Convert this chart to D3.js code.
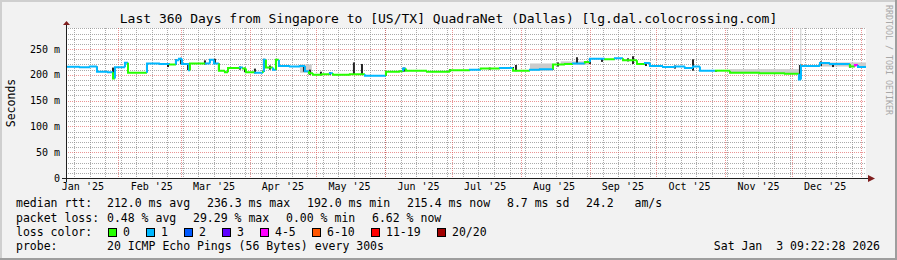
<!DOCTYPE html>
<html>
<head>
<meta charset="utf-8">
<script src="https://cdn.jsdelivr.net/npm/d3@7"></script>
<style>
  body { margin: 0; background: #f2f2f2; }
  svg text { font-family: 'DejaVu Sans Mono', monospace; white-space: pre; fill: #000; }
</style>
</head>
<body>
<script>
const title =
  'Last 360 Days from Singapore to [US/TX] QuadraNet (Dallas) [lg.dal.colocrossing.com]';
const rangeStart = '2025-01-08 09:22:28';
const rangeEnd = '2026-01-03 09:22:28';
const stamp = 'Sat Jan  3 09:22:28 2026';

const yTicks = [0, 50, 100, 150, 200, 250];
const yTickLabels = ['0', '50 m', '100 m', '150 m', '200 m', '250 m'];

// median rtt (ms) as steps, with the loss bucket of each step
const medianDates = [
  '2025-01-08 09', '2025-01-14 16', '2025-01-19 04', '2025-01-22 08', '2025-01-27 07',
  '2025-01-29 13', '2025-01-30 10', '2025-02-03 22', '2025-02-05 07', '2025-02-13 20',
  '2025-02-19 16', '2025-02-24 04', '2025-02-26 21', '2025-02-28 05', '2025-03-01 14',
  '2025-03-04 17', '2025-03-05 04', '2025-03-11 22', '2025-03-14 04', '2025-03-15 23',
  '2025-03-18 05', '2025-03-20 22', '2025-03-22 07', '2025-03-27 16', '2025-03-29 01',
  '2025-03-30 09', '2025-04-03 10', '2025-04-07 01', '2025-04-07 11', '2025-04-08 09',
  '2025-04-11 13', '2025-04-12 21', '2025-04-14 05', '2025-04-19 04', '2025-04-23 16',
  '2025-04-25 22', '2025-04-27 17', '2025-04-29 13', '2025-05-03 14', '2025-05-07 04',
  '2025-05-08 13', '2025-05-16 04', '2025-05-22 22', '2025-06-01 09', '2025-06-07 16',
  '2025-06-09 01', '2025-06-10 09', '2025-06-19 20', '2025-06-30 04', '2025-07-09 04',
  '2025-07-14 01', '2025-07-22 16', '2025-07-28 13', '2025-08-05 04', '2025-08-09 16',
  '2025-08-15 13', '2025-08-20 22', '2025-08-24 13', '2025-08-29 22', '2025-09-01 04',
  '2025-09-07 22', '2025-09-12 10', '2025-09-16 01', '2025-09-22 08', '2025-09-25 22',
  '2025-09-28 04', '2025-10-04 01', '2025-10-09 10', '2025-10-13 22', '2025-10-17 13',
  '2025-10-20 16', '2025-10-27 10', '2025-11-03 04', '2025-11-16 16', '2025-11-27 22',
  '2025-12-04 05', '2025-12-05 03', '2025-12-05 09', '2025-12-05 18', '2025-12-07 09',
  '2025-12-13 16', '2025-12-18 04', '2025-12-27 04', '2025-12-29 10', '2025-12-30 19',
  '2026-01-03 09',
];
const medianValues = [
  215.5, 214.5, 216, 206, 205, 193, 214.5, 223.5, 204, 222,
  221, 220, 228, 231, 221, 209, 222, 222, 229, 222,
  208, 205, 213, 214, 212, 205, 204, 206, 229, 214,
  210, 229, 217, 216, 217, 207, 203, 200, 201, 203,
  200, 201, 198, 206, 207, 212, 208, 206, 209, 210,
  212, 213, 208, 210, 211, 220, 221, 222, 225, 231,
  230, 232, 228, 221, 223, 217, 215, 216, 213, 216,
  208, 208, 204, 203, 202, 191, 219, 219, 217, 217,
  223, 221, 216, 219, 215, 215,
];
const medianLoss = [
  1, 1, 1, 1, 1, 0, 1, 1, 0, 1,
  1, 0, 1, 1, 1, 1, 0, 1, 1, 1,
  0, 0, 0, 1, 0, 0, 1, 0, 1, 0,
  1, 0, 1, 1, 1, 1, 0, 0, 0, 1,
  0, 0, 1, 0, 0, 1, 0, 0, 0, 1,
  0, 1, 0, 1, 1, 0, 0, 1, 0, 1,
  0, 1, 0, 0, 1, 1, 1, 1, 1, 1,
  1, 0, 0, 0, 0, 1, 1, 5, 1, 1,
  1, 1, 0, 4, 1, 1,
];

// dark smoke: spread of the pings where it is wide
const spikeDates = [
  '2025-01-22 08', '2025-01-29 13', '2025-02-05 07', '2025-02-13 20', '2025-02-23 07',
  '2025-02-26 21', '2025-03-01 03', '2025-03-04 07', '2025-03-11 22', '2025-03-16 10',
  '2025-03-18 05', '2025-03-27 16', '2025-03-29 22', '2025-04-03 10', '2025-04-07 11',
  '2025-04-10 04', '2025-04-12 21', '2025-04-25 11', '2025-04-28 04', '2025-05-03 03',
  '2025-05-07 04', '2025-05-17 23', '2025-05-21 14', '2025-06-01 09', '2025-06-09 11',
  '2025-06-30 04', '2025-07-18 02', '2025-07-28 13', '2025-07-29 21', '2025-08-15 13',
  '2025-08-17 19', '2025-08-26 08', '2025-09-01 04', '2025-09-06 14', '2025-09-18 07',
  '2025-09-20 13', '2025-09-26 09', '2025-10-09 10', '2025-10-17 13', '2025-10-27 21',
  '2025-12-04 16', '2025-12-14 03', '2025-12-19 13', '2025-12-27 04',
];
const spikeLow = [
  206, 193, 204, 205, 215, 220, 221, 209, 220, 222,
  208, 210, 205, 203, 206, 210, 210, 206, 200, 199,
  200, 201, 201, 198, 206, 206, 210, 208, 207, 210,
  216, 222, 221, 225, 226, 221, 217, 212, 208, 206,
  191, 217, 215, 214,
];
const spikeHigh = [
  216, 214, 223, 222, 222, 230, 233, 222, 228, 231,
  222, 216, 214, 212, 231, 218, 230, 218, 210, 206,
  205, 224, 221, 207, 214, 211, 214, 215, 219, 221,
  224, 234, 232, 232, 232, 236, 222, 218, 230, 209,
  219, 226, 222, 220,
];

// pale smoke
const hazeStart = ['2025-04-23 16', '2025-08-05 04', '2025-08-19 00', '2025-11-03 04', '2025-12-04 20', '2025-12-13 16'];
const hazeEnd = ['2025-04-29 00', '2025-08-15 02', '2025-09-01 00', '2025-12-04 05', '2025-12-05 06', '2026-01-03 09'];
const hazeLow = [204, 208, 219, 203, 219, 216];
const hazeHigh = [220, 222, 226, 211, 290, 224];

const lossLabels = ['0', '1', '2', '3', '4-5', '6-10', '11-19', '20/20'];
const lossColors = ['#26ff00', '#00b8ff', '#0059ff', '#5e00ff', '#ff00ff', '#ff5500', '#ff0000', '#a10000'];

const rttStats = ['212.0 ms avg', '236.3 ms max', '192.0 ms min', '215.4 ms now', '8.7 ms sd', '24.2   am/s'];
const lossStats = ['0.48 % avg', '29.29 % max', '0.00 % min', '6.62 % now'];
const probeText = '20 ICMP Echo Pings (56 Bytes) every 300s';

const W = 897;
const H = 260;
const plot = { left: 66, right: 866, top: 28, bottom: 178 };

const parseHour = d3.timeParse('%Y-%m-%d %H');
const parseFull = d3.timeParse('%Y-%m-%d %H:%M:%S');
const t0 = parseFull(rangeStart);
const t1 = parseFull(rangeEnd);

const svg = d3
  .select('body')
  .append('svg')
  .attr('width', W)
  .attr('height', H);

// frame
svg.append('rect').attr('width', W).attr('height', H).attr('fill', '#f2f2f2');
svg.append('rect').attr('x', 0).attr('y', 0).attr('width', W).attr('height', 2).attr('fill', '#cfcfcf');
svg.append('rect').attr('x', 0).attr('y', 0).attr('width', 2).attr('height', H).attr('fill', '#cfcfcf');
svg.append('rect').attr('x', 0).attr('y', H - 2).attr('width', W).attr('height', 2).attr('fill', '#9e9e9e');
svg.append('rect').attr('x', W - 2).attr('y', 0).attr('width', 2).attr('height', H).attr('fill', '#9e9e9e');

const x = d3.scaleTime().domain([t0, t1]).range([plot.left, plot.right]);
const y = d3.scaleLinear().domain([0, 290.7]).range([plot.bottom, plot.top]);

svg
  .append('rect')
  .attr('x', plot.left)
  .attr('y', plot.top)
  .attr('width', plot.right - plot.left)
  .attr('height', plot.bottom - plot.top)
  .attr('fill', '#ffffff');

// grid
const grid = svg.append('g').attr('shape-rendering', 'crispEdges');
const minorGrid = 'rgba(143,143,143,0.75)';
const majorGrid = 'rgba(222,79,79,0.6)';

grid
  .selectAll('line.hminor')
  .data(d3.range(10, 291, 10).filter((v) => v % 50 !== 0))
  .enter()
  .append('line')
  .attr('x1', plot.left)
  .attr('x2', plot.right)
  .attr('y1', (d) => Math.round(y(d)) + 0.5)
  .attr('y2', (d) => Math.round(y(d)) + 0.5)
  .attr('stroke', minorGrid)
  .attr('stroke-dasharray', '1,1');

grid
  .selectAll('line.vminor')
  .data(d3.timeSunday.range(t0, t1))
  .enter()
  .append('line')
  .attr('x1', (d) => Math.round(x(d)) + 0.5)
  .attr('x2', (d) => Math.round(x(d)) + 0.5)
  .attr('y1', plot.top)
  .attr('y2', plot.bottom)
  .attr('stroke', minorGrid)
  .attr('stroke-dasharray', '1,1');

grid
  .selectAll('line.hmajor')
  .data(yTicks.slice(1))
  .enter()
  .append('line')
  .attr('x1', plot.left)
  .attr('x2', plot.right)
  .attr('y1', (d) => Math.round(y(d)) + 0.5)
  .attr('y2', (d) => Math.round(y(d)) + 0.5)
  .attr('stroke', majorGrid)
  .attr('stroke-dasharray', '1,1');

const months = d3.timeMonth.range(t0, t1);
grid
  .selectAll('line.vmajor')
  .data(months)
  .enter()
  .append('line')
  .attr('x1', (d) => Math.round(x(d)) + 0.5)
  .attr('x2', (d) => Math.round(x(d)) + 0.5)
  .attr('y1', plot.top)
  .attr('y2', plot.bottom)
  .attr('stroke', majorGrid)
  .attr('stroke-dasharray', '1,1');

// pale smoke
const haze = hazeStart.map((s, i) => ({
  a: parseHour(s),
  b: parseHour(hazeEnd[i]),
  lo: hazeLow[i],
  hi: hazeHigh[i],
}));
svg
  .append('g')
  .selectAll('rect')
  .data(haze)
  .enter()
  .append('rect')
  .attr('x', (d) => x(d.a))
  .attr('width', (d) => Math.max(1, x(d.b) - x(d.a)))
  .attr('y', (d) => y(d.hi))
  .attr('height', (d) => y(d.lo) - y(d.hi))
  .attr('fill', '#cccccc');

// dark smoke
const spikes = spikeDates.map((s, i) => ({ t: parseHour(s), lo: spikeLow[i], hi: spikeHigh[i] }));
svg
  .append('g')
  .selectAll('rect')
  .data(spikes)
  .enter()
  .append('rect')
  .attr('x', (d) => x(d.t) - 1)
  .attr('width', 2)
  .attr('y', (d) => y(d.hi))
  .attr('height', (d) => y(d.lo) - y(d.hi))
  .attr('fill', '#262626');

// median line, one colour per loss bucket
const steps = medianDates.slice(0, -1).map((s, i) => ({
  a: parseHour(s),
  b: parseHour(medianDates[i + 1]),
  v: medianValues[i],
  prev: i > 0 ? medianValues[i - 1] : medianValues[i],
  loss: medianLoss[i],
}));
const line = svg.append('g').attr('fill', 'none').attr('stroke-width', 2);
line
  .selectAll('path')
  .data(steps)
  .enter()
  .append('path')
  .attr('stroke', (d) => lossColors[d.loss])
  .attr('d', (d) =>
    d3.line()([
      [x(d.a), y(d.prev)],
      [x(d.a), y(d.v)],
      [x(d.b), y(d.v)],
    ])
  );

// axes
const axisCol = '#1f1f1f';
const arrowCol = '#801f1f';
svg
  .append('line')
  .attr('x1', plot.left + 0.5)
  .attr('x2', plot.left + 0.5)
  .attr('y1', plot.bottom + 4)
  .attr('y2', plot.top - 4)
  .attr('stroke', axisCol);
svg
  .append('line')
  .attr('x1', plot.left - 4)
  .attr('x2', plot.right + 3)
  .attr('y1', plot.bottom + 0.5)
  .attr('y2', plot.bottom + 0.5)
  .attr('stroke', axisCol);
svg
  .append('path')
  .attr('d', `M${plot.left - 3},${plot.top - 3}L${plot.left + 4},${plot.top - 3}L${plot.left + 0.5},${plot.top - 7}Z`)
  .attr('fill', arrowCol);
svg
  .append('path')
  .attr('d', `M${plot.right + 2},${plot.bottom - 3}L${plot.right + 2},${plot.bottom + 4}L${plot.right + 9},${plot.bottom + 0.5}Z`)
  .attr('fill', arrowCol);

// y labels
svg
  .append('g')
  .selectAll('text')
  .data(yTicks)
  .enter()
  .append('text')
  .attr('x', 60)
  .attr('y', (d) => y(d) + 3.5)
  .attr('text-anchor', 'end')
  .style('font-size', '10px')
  .text((d, i) => yTickLabels[i]);

svg
  .append('text')
  .attr('transform', 'translate(14.5,103)rotate(-90)')
  .attr('text-anchor', 'middle')
  .style('font-size', '11.5px')
  .text('Seconds');

// x labels sit in the middle of each month
const monthLabels = d3
  .timeMonth.range(d3.timeMonth.floor(t0), t1)
  .filter((d) => x(d3.timeDay.offset(d, 15)) < plot.right);
svg
  .append('g')
  .selectAll('text')
  .data(monthLabels)
  .enter()
  .append('text')
  .attr('x', (d) => x(d3.timeDay.offset(d, 15)))
  .attr('y', 190)
  .attr('text-anchor', 'middle')
  .style('font-size', '10px')
  .text((d) => d3.timeFormat("%b '%y")(d));

// title
svg
  .append('text')
  .attr('x', W / 2)
  .attr('y', 23)
  .attr('text-anchor', 'middle')
  .style('font-size', '13px')
  .text(title);

svg
  .append('text')
  .attr('transform', 'translate(886,5)rotate(90)')
  .style('font-size', '8.3px')
  .style('fill', '#a8a8a8')
  .text('RRDTOOL / TOBI OETIKER');

// legend
const legendFont = '11.5px';
const rows = [207, 221.5, 235.5, 249.5];
const heads = ['median rtt:', 'packet loss:', 'loss color:', 'probe:'];
heads.forEach((h, i) => {
  svg.append('text').attr('x', 16).attr('y', rows[i]).style('font-size', legendFont).text(h);
});

const rttX = [107, 207, 307, 407, 507, 586];
rttStats.forEach((s, i) => {
  svg.append('text').attr('x', rttX[i]).attr('y', rows[0]).style('font-size', legendFont).text(s);
});
const lossX = [107, 193, 286, 372];
lossStats.forEach((s, i) => {
  svg.append('text').attr('x', lossX[i]).attr('y', rows[1]).style('font-size', legendFont).text(s);
});

const boxX = [108, 146, 184, 222, 260, 312, 371, 437];
const key = svg.append('g');
key
  .selectAll('rect')
  .data(lossColors)
  .enter()
  .append('rect')
  .attr('x', (d, i) => boxX[i] + 0.5)
  .attr('y', 228.5)
  .attr('width', 8)
  .attr('height', 8)
  .attr('fill', (d) => d)
  .attr('stroke', '#000');
key
  .selectAll('text')
  .data(lossLabels)
  .enter()
  .append('text')
  .attr('x', (d, i) => boxX[i] + 15)
  .attr('y', rows[2])
  .style('font-size', legendFont)
  .text((d) => d);

svg.append('text').attr('x', 107).attr('y', rows[3]).style('font-size', legendFont).text(probeText);
svg.append('text').attr('x', 880).attr('y', rows[3]).attr('text-anchor', 'end').style('font-size', legendFont).text(stamp);
</script>
</body>
</html>
